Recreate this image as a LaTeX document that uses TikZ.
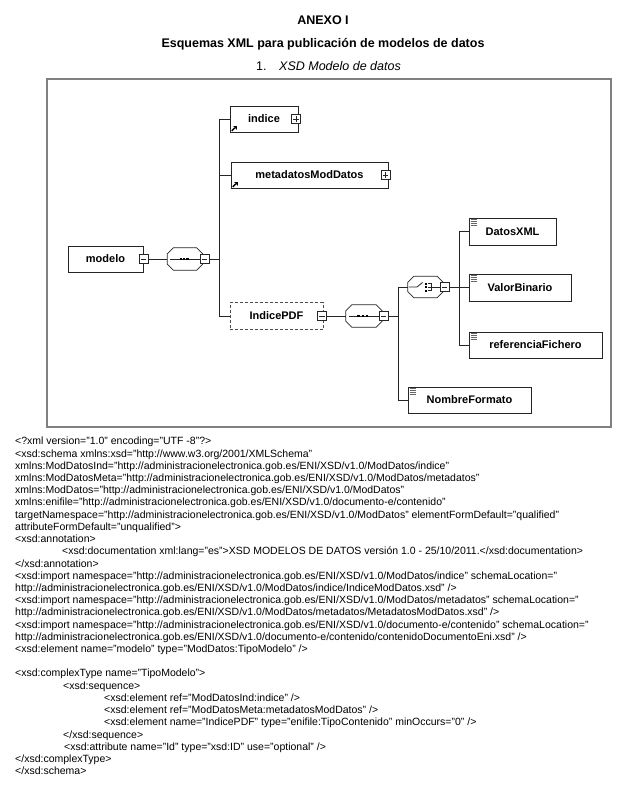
\documentclass[tikz,border=0pt]{standalone}
\usepackage{fontspec}
\setmainfont{Liberation Sans}
\usetikzlibrary{calc}
\newcommand\chamf[1]{\draw[conn, fill=white] ([xshift=6pt]#1.north west) -- ([xshift=-6pt]#1.north east) -- ([yshift=-6pt]#1.north east) -- ([yshift=6pt]#1.south east) -- ([xshift=-6pt]#1.south east) -- ([xshift=6pt]#1.south west) -- ([yshift=6pt]#1.south west) -- ([yshift=-6pt]#1.north west) -- cycle;}
\newcommand\refarrow[1]{\draw[line width=1.3pt, black] ([xshift=2.2pt,yshift=1.6pt]#1.south west) -- ([xshift=5.2pt,yshift=4.6pt]#1.south west);
  \fill[black] ([xshift=3.6pt,yshift=6.4pt]#1.south west) -- ([xshift=7.4pt,yshift=6.4pt]#1.south west) -- ([xshift=7.4pt,yshift=2.6pt]#1.south west) -- cycle;}
\newcommand\txticon[1]{\foreach \k in {0,1,2,3}{\draw[black!60, line width=0.6pt] ([xshift=2pt,yshift=-1.8pt-2*\k pt]#1.north west) -- ([xshift=8.5pt,yshift=-1.8pt-2*\k pt]#1.north west);}}
\begin{document}
\begin{tikzpicture}[x=1pt,y=-1pt,
  elem/.style={draw=black!85, line width=0.9pt, fill=white, minimum height=26pt, inner sep=0pt, font=\fontsize{11}{13}\selectfont\bfseries},
  optelem/.style={elem, draw=black!70, dash pattern=on 3pt off 2pt},
  btn/.style={draw=black!85, line width=0.7pt, fill=white, minimum size=9pt, inner sep=0pt},
  minusbtn/.style={btn, path picture={\draw[line width=0.7pt] ([xshift=1.8pt]path picture bounding box.west) -- ([xshift=-1.8pt]path picture bounding box.east);}},
  plusbtn/.style={btn, path picture={\draw[line width=0.7pt] ([xshift=1.8pt]path picture bounding box.west) -- ([xshift=-1.8pt]path picture bounding box.east); \draw[line width=0.7pt] ([yshift=-1.8pt]path picture bounding box.north) -- ([yshift=1.8pt]path picture bounding box.south);}},
  comp/.style={minimum width=35pt, minimum height=22pt, inner sep=0pt},
  conn/.style={draw=black!85, line width=0.8pt},
  head/.style={font=\fontsize{12.5}{15}\selectfont\bfseries, inner sep=0pt},
]
\useasboundingbox (0,0) rectangle (642,806);
% headings
\node[head] (anexo) at (323,20) {ANEXO I};
\node[head] (title) at (323,44) {Esquemas XML para publicación de modelos de datos};
\node[font=\fontsize{12.5}{15}\selectfont, anchor=west, inner sep=0pt] (num) at (256,66) {1.};
\node[font=\fontsize{12.5}{15}\selectfont\itshape, anchor=west, inner sep=0pt] (sub) at (279,66) {XSD Modelo de datos};
% frame
\draw[draw=black!50, line width=1.1pt] (47,79) rectangle (611,427);
% nodes
\node[elem, minimum width=75pt] (modelo) at (105.5,259) {modelo};
\node[minusbtn] (modeloB) at (143.5,259) {};
\node[comp] (c1) at (185,259) {};
\node[minusbtn] (c1B) at (204.5,259) {};
\node[elem, minimum width=68pt] (indice) at (264,119) {indice};
\node[plusbtn] (indiceB) at (296,119) {};
\node[elem, minimum width=157pt] (meta) at (309.5,175) {metadatosModDatos};
\node[plusbtn] (metaB) at (385.5,175) {};
\node[optelem, minimum width=93pt, minimum height=27pt] (pdf) at (276.5,316) {IndicePDF};
\node[minusbtn] (pdfB) at (322,316) {};
\node[comp, minimum width=36pt] (c2) at (364,316) {};
\node[minusbtn] (c2B) at (383.5,316) {};
\node[comp, minimum height=21pt] (c3) at (425.5,287) {};
\node[minusbtn] (c3B) at (444.5,287) {};
\node[elem, minimum width=87pt, minimum height=27pt] (datos) at (512.5,231.5) {DatosXML};
\node[elem, minimum width=102pt, minimum height=27pt] (valor) at (520,287.5) {ValorBinario};
\node[elem, minimum width=133pt] (ref) at (535.5,345) {referenciaFichero};
\node[elem, minimum width=123pt] (nombre) at (469.5,400) {NombreFormato};
% redraw buttons on top of boxes
\node[minusbtn] at (modeloB) {};
\node[plusbtn] at (indiceB) {};
\node[plusbtn] at (metaB) {};
\node[minusbtn] at (pdfB) {};
% compositors
\chamf{c1}
\chamf{c2}
\chamf{c3}
\node[minusbtn] at (c1B) {};
\node[minusbtn] at (c2B) {};
\node[minusbtn] at (c3B) {};
% sequence icons
\draw[conn] ([xshift=3pt]c1.west) -- (c1B.west);
\foreach \dx in {-4.3,-1,2.3}{\fill[black] ([xshift=\dx pt-1.2pt,yshift=-1.3pt]c1.center) rectangle ([xshift=\dx pt+1.2pt,yshift=1.3pt]c1.center);}
\draw[conn] ([xshift=3pt]c2.west) -- (c2B.west);
\foreach \dx in {-5.7,-1.3,2.7}{\fill[black] ([xshift=\dx pt-1.2pt,yshift=-1.3pt]c2.center) rectangle ([xshift=\dx pt+1.2pt,yshift=1.3pt]c2.center);}
% choice icon
\draw[conn] ([xshift=1pt]c3.west) -- ([xshift=-8.5pt]c3.center) -- ([xshift=-3pt,yshift=4.5pt]c3.center);
\foreach \dy in {-3.5,0,3.5}{\fill[black] ([xshift=-1pt,yshift=\dy pt-1pt]c3.center) rectangle ([xshift=1pt,yshift=\dy pt+1pt]c3.center);}
\draw[conn] ([xshift=2pt,yshift=3.5pt]c3.center) -- ([xshift=6pt,yshift=3.5pt]c3.center) -- ([xshift=6pt,yshift=-3.5pt]c3.center) -- ([xshift=2pt,yshift=-3.5pt]c3.center);
\draw[conn] ([xshift=2pt]c3.center) -- (c3B.west);
% connectors
\coordinate (t1) at (219,259);
\coordinate (t2) at (398,316);
\coordinate (t3) at (459,287);
\draw[conn] (modeloB.east) -- (c1.west);
\draw[conn] (c1B.east) -- (t1);
\draw[conn] (indice.west) -- (indice.west -| t1) -- (pdf.west -| t1) -- (pdf.west);
\draw[conn] (meta.west) -- (meta.west -| t1);
\draw[conn] (pdfB.east) -- (c2.west);
\draw[conn] (c2B.east) -- (t2);
\draw[conn] (c3.west) -- (c3.west -| t2) -- (nombre.west -| t2) -- (nombre.west);
\draw[conn] (c3B.east) -- (t3);
\draw[conn] (datos.west) -- (datos.west -| t3) -- (ref.west -| t3) -- (ref.west);
\draw[conn] (valor.west) -- (valor.west -| t3);
% icons
\refarrow{indice}
\refarrow{meta}
\txticon{datos}
\txticon{valor}
\txticon{ref}
\txticon{nombre}
% XML text
\node[anchor=north west, align=left, inner sep=0pt, font=\fontsize{10.5}{12.22}\selectfont] (xml) at (15,437) {%
<?xml version="1.0" encoding="UTF -8"?>\\
<xsd:schema xmlns:xsd="http://www.w3.org/2001/XMLSchema"\\
xmlns:ModDatosInd="http://administracionelectronica.gob.es/ENI/XSD/v1.0/ModDatos/indice"\\
xmlns:ModDatosMeta="http://administracionelectronica.gob.es/ENI/XSD/v1.0/ModDatos/metadatos"\\
xmlns:ModDatos="http://administracionelectronica.gob.es/ENI/XSD/v1.0/ModDatos"\\
xmlns:enifile="http://administracionelectronica.gob.es/ENI/XSD/v1.0/documento-e/contenido"\\
targetNamespace="http://administracionelectronica.gob.es/ENI/XSD/v1.0/ModDatos" elementFormDefault="qualified"\\
attributeFormDefault="unqualified">\\
<xsd:annotation>\\
\hspace*{47pt}<xsd:documentation xml:lang="es">XSD MODELOS DE DATOS versión 1.0 - 25/10/2011.</xsd:documentation>\\
</xsd:annotation>\\
<xsd:import namespace="http://administracionelectronica.gob.es/ENI/XSD/v1.0/ModDatos/indice" schemaLocation="\\
http://administracionelectronica.gob.es/ENI/XSD/v1.0/ModDatos/indice/IndiceModDatos.xsd" />\\
<xsd:import namespace="http://administracionelectronica.gob.es/ENI/XSD/v1.0/ModDatos/metadatos" schemaLocation="\\
http://administracionelectronica.gob.es/ENI/XSD/v1.0/ModDatos/metadatos/MetadatosModDatos.xsd" />\\
<xsd:import namespace="http://administracionelectronica.gob.es/ENI/XSD/v1.0/documento-e/contenido" schemaLocation="\\
http://administracionelectronica.gob.es/ENI/XSD/v1.0/documento-e/contenido/contenidoDocumentoEni.xsd" />\\
<xsd:element name="modelo" type="ModDatos:TipoModelo" />\\
\mbox{}\\
<xsd:complexType name="TipoModelo">\\
\hspace*{48pt}<xsd:sequence>\\
\hspace*{89pt}<xsd:element ref="ModDatosInd:indice" />\\
\hspace*{89pt}<xsd:element ref="ModDatosMeta:metadatosModDatos" />\\
\hspace*{89pt}<xsd:element name="IndicePDF" type="enifile:TipoContenido" minOccurs="0" />\\
\hspace*{48pt}</xsd:sequence>\\
\hspace*{49pt}<xsd:attribute name="Id" type="xsd:ID" use="optional" />\\
</xsd:complexType>\\
</xsd:schema>};
\end{tikzpicture}
\end{document}
